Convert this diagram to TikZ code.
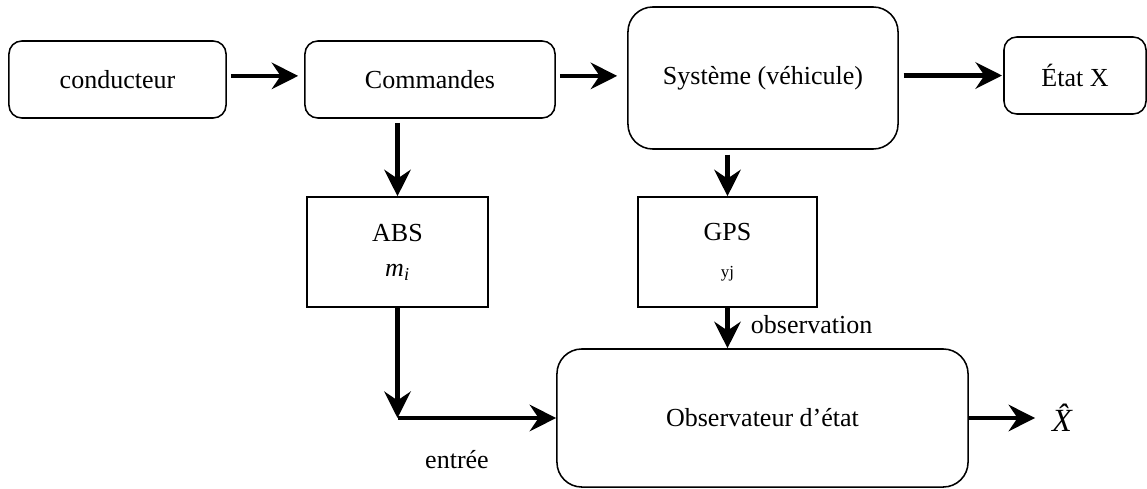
\documentclass[tikz,border=0pt]{standalone}
\usepackage{fontspec}
\setmainfont{Liberation Serif}
\usetikzlibrary{arrows.meta,positioning,calc}

\begin{document}
\begin{tikzpicture}[x=0.025cm,y=-0.025cm,font=\fontsize{18.5}{22}\selectfont,
    bloc/.style={rectangle, draw, line width=1.1pt, align=center, inner sep=0pt},
    rbloc/.style={bloc, rounded corners=0.32cm},
    gbloc/.style={bloc, rounded corners=0.62cm},
    fleche/.style={line width=3.2pt, -{Stealth[length=0.66cm,width=0.66cm,inset=0.22cm]}}]
  \useasboundingbox (0,0) rectangle (1147,488);

  % chaine du haut
  \node[rbloc, minimum width=5.425cm, minimum height=1.925cm] (cond) at (117.5,79.5) {conducteur};
  \node[rbloc, minimum width=6.25cm, minimum height=1.925cm] (cmd) at (430,79.5) {Commandes};
  \node[gbloc, minimum width=6.75cm, minimum height=3.55cm] (sys) at (763,78) {Système (véhicule)};
  \node[rbloc, minimum width=3.55cm, minimum height=1.925cm] (etat) at (1075,75.5) {État X};

  % capteurs
  \node[bloc, minimum width=4.525cm, minimum height=2.75cm] (abs) at (397.5,252) {ABS\\[3pt]\textit{m}\textsubscript{\textit{i}}};
  \node[bloc, minimum width=4.475cm, minimum height=2.75cm] (gps) at (727.5,252) {GPS\\[4pt]{\fontsize{12}{14}\selectfont yj}};

  % observateur
  \node[gbloc, minimum width=10.275cm, minimum height=3.45cm] (obs) at (762.5,418) {Observateur d’état};
  \node (xhat) at (1068,418) {\fontsize{23}{26}\selectfont\textit{\^{X}}};
  \node[anchor=west] (lobs) at (746,325) {observation};
  \node (lent) at (457,460) {entrée};

  \draw[fleche, shorten <=0.1cm, shorten >=0.15cm] ([yshift=0.09cm]cond.east) -- ([yshift=0.09cm]cmd.west);
  \draw[fleche, shorten <=0.1cm, shorten >=0.25cm] ([yshift=0.09cm]cmd.east) -- ([yshift=0.09cm]cmd.east -| sys.west);
  \draw[fleche, shorten <=0.12cm, shorten >=0.03cm] (etat.west -| sys.east) -- (etat.west);
  \draw[fleche, shorten <=0.1cm] (abs.north |- cmd.south) -- (abs.north);
  \draw[fleche, shorten <=0.12cm] (gps.north |- sys.south) -- (gps.north);
  \draw[fleche] (gps.south) -- (gps.south |- obs.north);

  \coordinate (coin) at (abs.south |- obs.west);
  \draw[fleche] (abs.south) -- (coin);
  \draw[fleche] (coin) -- (obs.west);
  \draw[fleche, shorten >=0.3cm] (obs.east) -- (obs.east -| xhat.west);
\end{tikzpicture}
\end{document}
